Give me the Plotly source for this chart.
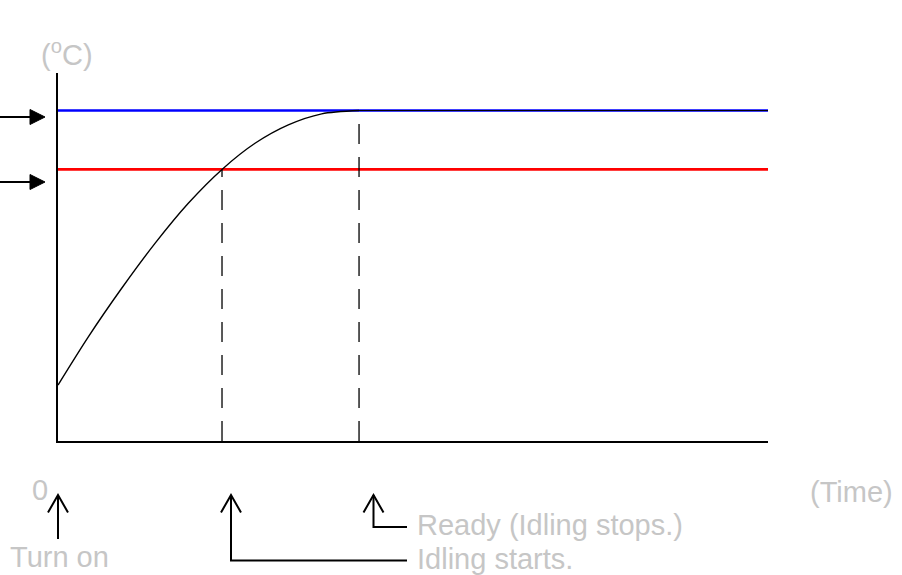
import plotly.graph_objects as go

# Warm-up temperature curve (time in %, temperature in % of axis span)
time_pts = [0, 4.27, 8.97, 13.66, 18.35, 23.1, 27.75, 32.44, 37.14, 42.4]
temp_pts = [15.2, 28.3, 41.5, 53.7, 64.6, 73.8, 80.9, 85.9, 88.9, 89.8]

idle_temp = 73.8      # idling starts at this temperature (red)
ready_temp = 89.8     # ready temperature (blue)
idle_time = 23.1
ready_time = 42.4
x_range = [0, 100]
y_range = [0, 100]

W, H = 902, 575
L, T, R, B = 58, 73, 134, 134
PW, PH = W - L - R, H - T - B

TXT = "#c6c6c6"
FONT = "Liberation Sans, Arial, sans-serif"
FS = 29


def fx(px):
    return (px - L) / PW


def fy(py):
    return (T + PH - py) / PH


fig = go.Figure()

# threshold lines
fig.add_trace(go.Scatter(x=x_range, y=[ready_temp, ready_temp], mode="lines",
                         line=dict(color="#0000ff", width=2.6)))
fig.add_trace(go.Scatter(x=x_range, y=[idle_temp, idle_temp], mode="lines",
                         line=dict(color="#ff0000", width=2.6)))

# dashed drop lines
fig.add_trace(go.Scatter(x=[idle_time, idle_time], y=[y_range[0], idle_temp], mode="lines",
                         line=dict(color="black", width=1.3, dash="20px,13px")))
fig.add_trace(go.Scatter(x=[ready_time, ready_time], y=[y_range[0], ready_temp], mode="lines",
                         line=dict(color="black", width=1.3, dash="20px,13px")))

# temperature curve and the flat part after reaching ready temperature
fig.add_trace(go.Scatter(x=time_pts, y=temp_pts, mode="lines",
                         line=dict(color="black", width=1.4, shape="spline", smoothing=0.8)))
fig.add_trace(go.Scatter(x=[ready_time, x_range[1]], y=[ready_temp, ready_temp], mode="lines",
                         line=dict(color="black", width=1.0)))

shapes = []
BLK = dict(color="black", width=2)

# left pointers to the two threshold lines
for ya in (117, 182):
    shapes.append(dict(type="line", xref="paper", yref="paper",
                       x0=fx(0), x1=fx(33), y0=fy(ya), y1=fy(ya), line=BLK))
    shapes.append(dict(type="path", xref="paper", yref="paper",
                       path=f"M {fx(30)},{fy(ya - 7.5)} L {fx(45)},{fy(ya)} L {fx(30)},{fy(ya + 7.5)} Z",
                       fillcolor="black", line=dict(color="black", width=1)))


def up_arrow(xp, y_bottom, x_end=None):
    tip = 495
    head = 17.5
    path = f"M {fx(xp - 10)},{fy(tip + head)} L {fx(xp)},{fy(tip)} L {fx(xp + 10)},{fy(tip + head)}"
    shapes.append(dict(type="path", xref="paper", yref="paper", path=path, line=BLK))
    if x_end is None:
        p = f"M {fx(xp)},{fy(tip)} L {fx(xp)},{fy(y_bottom)}"
    else:
        p = f"M {fx(xp)},{fy(tip)} L {fx(xp)},{fy(y_bottom)} L {fx(x_end)},{fy(y_bottom)}"
    shapes.append(dict(type="path", xref="paper", yref="paper", path=p, line=BLK))


up_arrow(58, 539)
up_arrow(231, 560.5, 407)
up_arrow(373.5, 527, 407)


def label(text, x, y, xanchor="center"):
    return dict(text=text, xref="paper", yref="paper", x=fx(x), y=fy(y),
                xanchor=xanchor, yanchor="middle", showarrow=False,
                font=dict(family=FONT, size=FS, color=TXT))


annotations = [
    label("(<sup>o</sup>C)", 67, 53),
    label("0", 40, 490),
    label("(Time)", 851, 492),
    label("Turn on", 59, 557),
    label("Ready (Idling stops.)", 415, 525, "left"),
    label("Idling starts.", 415, 559, "left"),
]

axis_common = dict(showgrid=False, zeroline=False, showticklabels=False, ticks="",
                   fixedrange=True)
fig.update_layout(
    width=W, height=H,
    margin=dict(l=L, r=R, t=T, b=B, pad=0),
    paper_bgcolor="white", plot_bgcolor="white",
    showlegend=False,
    xaxis=dict(range=x_range, showline=True, linecolor="black", linewidth=1.5,
               mirror=False, **axis_common),
    yaxis=dict(range=y_range, showline=True, linecolor="black", linewidth=1.5,
               mirror=False, **axis_common),
    shapes=shapes,
    annotations=annotations,
)

fig.write_html("out.html")
